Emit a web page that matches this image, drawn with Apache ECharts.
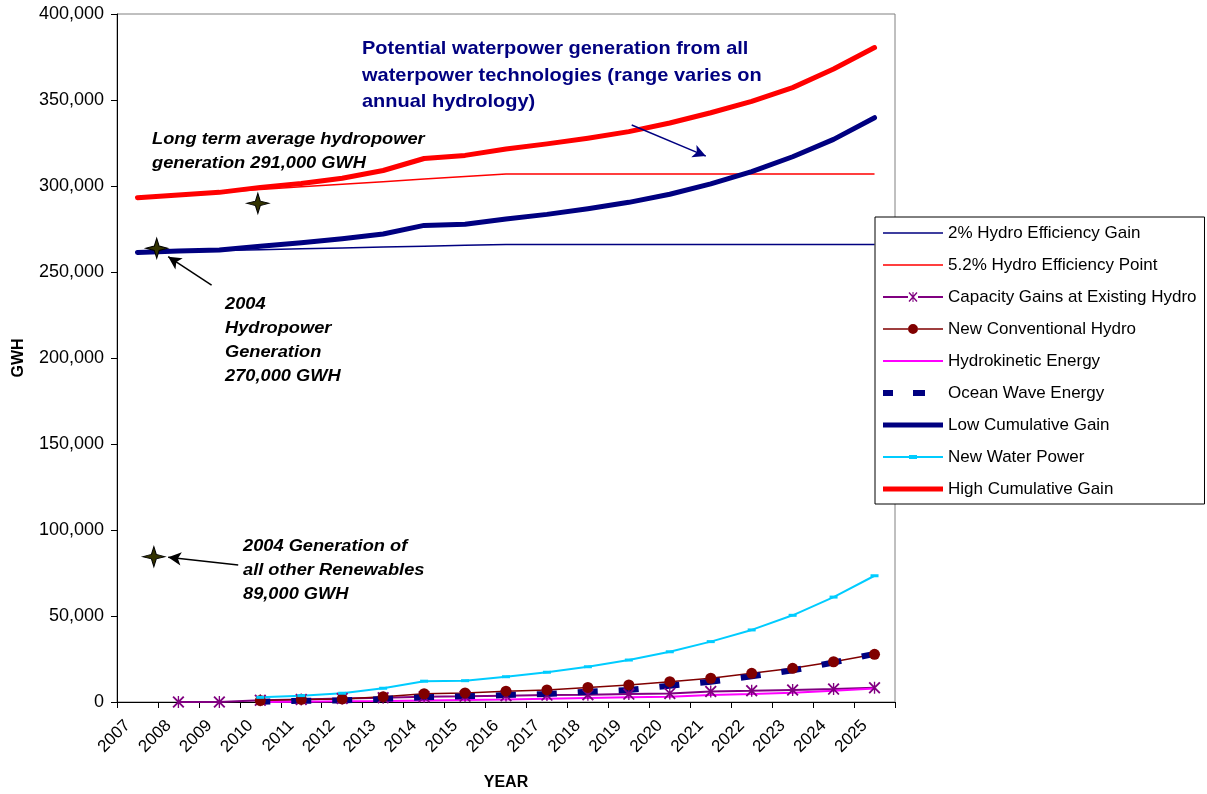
<!DOCTYPE html>
<html>
<head>
<meta charset="utf-8">
<script src="https://cdn.jsdelivr.net/npm/echarts@6/dist/echarts.min.js"></script>
<style>
html,body{margin:0;padding:0;background:#fff;}
#chart{width:1207px;height:794px;}
</style>
</head>
<body>
<div id="chart"></div>
<script>
// ---- Data ----
const years = ['2007','2008','2009','2010','2011','2012','2013','2014','2015','2016','2017','2018','2019','2020','2021','2022','2023','2024','2025'];

const hydroEff2 = [261400,262000,262500,263000,263500,264000,264500,265000,265500,266000,266000,266000,266000,266000,266000,266000,266000,266000,266000];
const hydroEff52 = [293200,294800,296300,298000,299500,301000,302500,304000,305500,307000,307000,307000,307000,307000,307000,307000,307000,307000,307000];
const capacityGains = [null,0,0,1000,1500,2000,2500,3000,3300,3700,4000,4200,4600,5000,6100,6500,7000,7500,8300];
const newConventional = [null,null,null,800,1500,1800,3100,4800,5300,6300,7000,8500,9900,11800,13800,16700,19600,23400,27700];
const hydrokinetic = [null,null,null,0,200,400,600,900,1200,1500,1900,2300,2700,3100,4000,4600,5400,6600,7800];
const oceanWave = [null,null,null,200,700,900,1700,2800,3300,4000,4600,6000,7000,9500,11800,14900,18400,23000,28000];
const lowCumulative = [261400,262200,262800,265000,267000,269300,272100,277100,277800,280800,283500,286800,290500,295200,301200,308400,317000,327100,339700];
const newWaterPower = [null,null,null,2700,3700,5100,8000,12100,12400,14700,17300,20500,24400,29200,35100,41900,50400,61000,73400];
const highCumulative = [293200,294800,296300,299200,301500,304500,309000,316000,317800,321500,324500,327800,331600,336600,342600,349200,357200,368000,380500];

// annotation stars (x in category-index units, y in GWH)
const starX = [0.47, 2.94, 0.40];
const starY = [263800, 289900, 84500];
// annotation arrows: [x1, y1, x2, y2] (tail -> head)
const arrowBlack1 = [1.81, 242400, 0.75, 258900];
const arrowBlack2 = [2.46, 79650, 0.75, 84100];
const arrowNavy = [12.07, 335500, 13.88, 317400];

const FONT = "'Liberation Sans', Arial, sans-serif";

const asterisk = 'path://M9 0 L11 0 L11 20 L9 20 Z M1 2 L3 0 L19 18 L17 20 Z M17 0 L19 2 L3 20 L1 18 Z';
const star4 = 'path://M10 0 L12.2 7.8 L20 10 L12.2 12.2 L10 20 L7.8 12.2 L0 10 L7.8 7.8 Z';

// legend icons drawn in a 60x14 box (tiny corner triangles fix the bounds)
const BOX = 'M0 0 L0.01 0 L0 0.01 Z M60 14 L59.99 14 L60 13.99 Z ';
const iconThin = 'path://' + BOX + 'M0 6.25 H60 V7.75 H0 Z';
const iconThin2 = 'path://' + BOX + 'M0 6 H60 V8 H0 Z';
const iconThick = 'path://' + BOX + 'M0 4.5 H60 V9.5 H0 Z';
const iconAsterisk = 'path://' + BOX + 'M0 6 H25 V8 H0 Z M35 6 H60 V8 H35 Z M29.5 2 H30.5 V12 H29.5 Z M25.5 3 L26.5 2 L34.5 11 L33.5 12 Z M33.5 2 L34.5 3 L26.5 12 L25.5 11 Z';
const iconCircle = 'path://' + BOX + 'M0 6.25 H25 V7.75 H0 Z M35 6.25 H60 V7.75 H35 Z M35 7 A5 5 0 1 1 25 7 A5 5 0 1 1 35 7 Z';
const iconDash = 'path://' + BOX + 'M0 4 H10 V10 H0 Z M30 4 H42 V10 H30 Z';
const iconWater = 'path://' + BOX + 'M0 6 H60 V8 H0 Z M26 5 H34 V9 H26 Z';

function lineSeries(name, data, color, width, extra) {
  return Object.assign({
    name: name, type: 'line', data: data,
    symbol: 'none', showSymbol: false,
    lineStyle: { color: color, width: width },
    itemStyle: { color: color },
    emphasis: { disabled: true },
    connectNulls: false
  }, extra || {});
}

const chart = echarts.init(document.getElementById('chart'), null, { renderer: 'canvas' });

const option = {
  animation: false,
  backgroundColor: '#ffffff',
  textStyle: { fontFamily: FONT },
  grid: {
    left: 117, top: 14, right: 312, bottom: 92,
    show: true, borderColor: '#808080', borderWidth: 1,
    containLabel: false, outerBoundsMode: 'none'
  },
  legend: {
    orient: 'vertical',
    left: 875, top: 217,
    padding: [7, 8, 6, 8],
    itemWidth: 60, itemHeight: 14, itemGap: 14,
    backgroundColor: '#ffffff',
    borderColor: '#000000', borderWidth: 1, borderRadius: 0,
    itemStyle: { borderWidth: 0 },
    textStyle: { fontFamily: FONT, fontSize: 17, color: '#000', lineHeight: 18 },
    data: [
      { name: '2% Hydro Efficiency Gain', icon: iconThin },
      { name: '5.2% Hydro Efficiency Point', icon: iconThin },
      { name: 'Capacity Gains at Existing Hydro', icon: iconAsterisk },
      { name: 'New Conventional Hydro', icon: iconCircle },
      { name: 'Hydrokinetic Energy', icon: iconThin2 },
      { name: 'Ocean Wave Energy', icon: iconDash },
      { name: 'Low Cumulative Gain', icon: iconThick },
      { name: 'New Water Power', icon: iconWater },
      { name: 'High Cumulative Gain', icon: iconThick }
    ]
  },
  xAxis: [{
    type: 'category',
    data: years,
    boundaryGap: true,
    name: 'YEAR',
    nameLocation: 'middle',
    nameGap: 73,
    nameMoveOverlap: false,
    nameTextStyle: { fontFamily: FONT, fontSize: 16, fontWeight: 'bold', color: '#000' },
    axisLine: { show: true, onZero: false, lineStyle: { color: '#000', width: 1 } },
    axisTick: { show: true, inside: false, length: 6, alignWithLabel: false, lineStyle: { color: '#000' } },
    axisLabel: { rotate: 45, margin: 11, padding: [0, 14, 0, 0], fontFamily: FONT, fontSize: 17, color: '#000', interval: 0 },
    splitLine: { show: false }
  }, {
    type: 'value', min: -0.5, max: 18.5, show: false
  }],
  yAxis: [{
    type: 'value',
    min: 0, max: 400000, interval: 50000,
    name: 'GWH',
    nameLocation: 'middle',
    nameGap: 90,
    nameRotate: 90,
    nameMoveOverlap: false,
    nameTextStyle: { fontFamily: FONT, fontSize: 16, fontWeight: 'bold', color: '#000' },
    axisLine: { show: true, onZero: false, lineStyle: { color: '#000', width: 1 } },
    axisTick: { show: true, inside: false, length: 6, lineStyle: { color: '#000' } },
    axisLabel: {
      margin: 13, fontFamily: FONT, fontSize: 18, color: '#000',
      formatter: function (v) { return v.toLocaleString('en-US'); }
    },
    splitLine: { show: false }
  }],
  series: [
    lineSeries('2% Hydro Efficiency Gain', hydroEff2, '#000080', 1.5),
    lineSeries('5.2% Hydro Efficiency Point', hydroEff52, '#FF0000', 1.5),
    lineSeries('Capacity Gains at Existing Hydro', capacityGains, '#800080', 2, {
      symbol: asterisk, showSymbol: true, symbolSize: 12,
      itemStyle: { color: '#800080' }
    }),
    lineSeries('New Conventional Hydro', newConventional, '#800000', 1.5, {
      symbol: 'circle', showSymbol: true, symbolSize: 11,
      itemStyle: { color: '#800000' }
    }),
    lineSeries('Hydrokinetic Energy', hydrokinetic, '#FF00FF', 2),
    lineSeries('Ocean Wave Energy', oceanWave, '#000080', 6, {
      lineStyle: { color: '#000080', width: 6, type: [20, 20.95], dashOffset: 10, cap: 'butt' }
    }),
    lineSeries('Low Cumulative Gain', lowCumulative, '#000080', 5, {
      lineStyle: { color: '#000080', width: 5, cap: 'round', join: 'round' }
    }),
    lineSeries('New Water Power', newWaterPower, '#00CCFF', 2, {
      symbol: 'rect', showSymbol: true, symbolSize: [8, 3],
      itemStyle: { color: '#00CCFF' }
    }),
    lineSeries('High Cumulative Gain', highCumulative, '#FF0000', 5, {
      lineStyle: { color: '#FF0000', width: 5, cap: 'round', join: 'round' }
    }),
    {
      name: 'annotations',
      type: 'scatter',
      xAxisIndex: 1, yAxisIndex: 0,
      symbol: star4, symbolSize: [22, 20],
      itemStyle: { color: '#333300', borderColor: '#000', borderWidth: 1, opacity: 1 },
      emphasis: { disabled: true },
      silent: true,
      z: 5,
      data: starX.map(function (x, i) { return [x, starY[i]]; }),
      markLine: {
        silent: true,
        animation: false,
        symbol: ['none', 'arrow'],
        symbolSize: [10, 13],
        label: { show: false },
        emphasis: { disabled: true },
        lineStyle: { type: 'solid', width: 1.5, color: '#000' },
        data: [
          [{ coord: [arrowBlack1[0], arrowBlack1[1]] }, { coord: [arrowBlack1[2], arrowBlack1[3]] }],
          [{ coord: [arrowBlack2[0], arrowBlack2[1]] }, { coord: [arrowBlack2[2], arrowBlack2[3]] }],
          [{ coord: [arrowNavy[0], arrowNavy[1]], lineStyle: { color: '#000080', width: 1.5, type: 'solid' } },
           { coord: [arrowNavy[2], arrowNavy[3]], lineStyle: { color: '#000080', width: 1.5, type: 'solid' } }]
        ]
      }
    }
  ],
  graphic: [
    {
      type: 'text', left: 362, top: 36, z: 100,
      scaleX: 1.08,
      style: {
        text: 'Potential waterpower generation from all\nwaterpower technologies (range varies on\nannual hydrology)',
        font: "bold 18.5px " + FONT, fill: '#000080', lineHeight: 26.5
      }
    },
    {
      type: 'text', left: 152, top: 128, z: 100,
      scaleX: 1.14,
      style: {
        text: 'Long term average hydropower\ngeneration 291,000 GWH',
        font: "italic bold 16px " + FONT, fill: '#000', lineHeight: 24
      }
    },
    {
      type: 'text', left: 225, top: 293, z: 100,
      scaleX: 1.14,
      style: {
        text: '2004\nHydropower\nGeneration\n270,000 GWH',
        font: "italic bold 16px " + FONT, fill: '#000', lineHeight: 24
      }
    },
    {
      type: 'text', left: 243, top: 535, z: 100,
      scaleX: 1.14,
      style: {
        text: '2004 Generation of\nall other Renewables\n89,000 GWH',
        font: "italic bold 16px " + FONT, fill: '#000', lineHeight: 24
      }
    }
  ]
};

chart.setOption(option);
</script>
</body>
</html>
